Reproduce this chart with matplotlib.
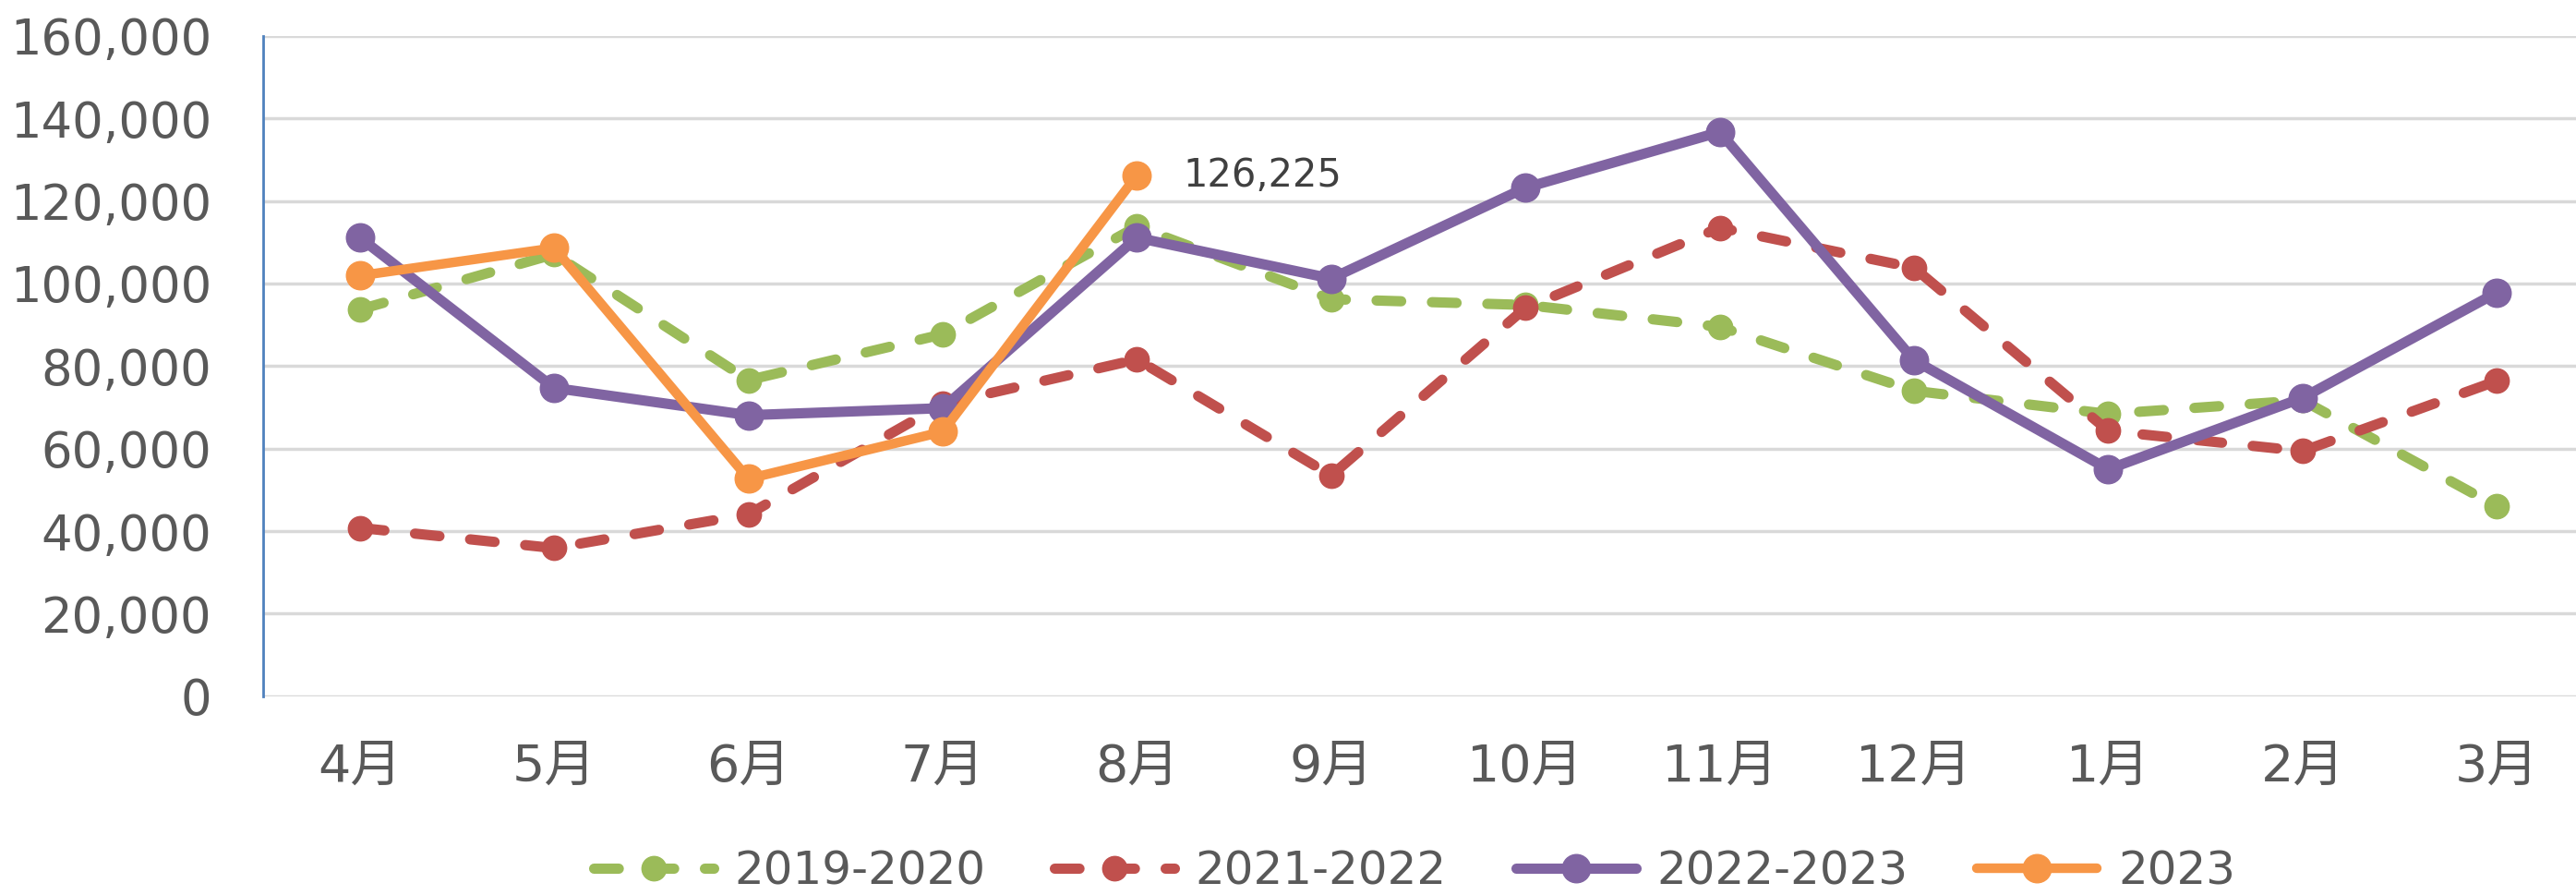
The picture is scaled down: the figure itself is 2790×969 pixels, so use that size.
import numpy as np
import matplotlib.pyplot as plt

plt.rcParams['font.family'] = ['DejaVu Sans', 'Noto Sans CJK JP']

months = ["4月", "5月", "6月", "7月", "8月", "9月", "10月", "11月", "12月", "1月", "2月", "3月"]

s2019 = [93700, 107100, 76600, 87700, 113800, 96200, 94800, 89500, 74000, 68400, 71700, 46000]
s2021 = [40800, 35900, 44100, 70800, 81600, 53500, 94100, 113500, 103800, 64300, 59400, 76400]
s2022 = [111100, 74700, 68100, 69800, 111100, 101200, 123200, 136700, 81400, 55000, 72300, 97800]
s2023 = [101900, 108600, 52700, 64100, 126225]

labels = ["2019-2020", "2021-2022", "2022-2023", "2023"]
colors = ["#9BBB59", "#C0504D", "#8064A2", "#F79646"]

fig = plt.figure(figsize=(27.9, 9.69), dpi=100)
ax = fig.add_axes([0.102, 0.222, 0.905, 0.738])

x = np.arange(len(months))
dash = (0, (2.4, 3.0))
ax.plot(x, s2019, color=colors[0], lw=8, linestyle=dash, dash_capstyle='round',
        marker='o', markersize=19, label=labels[0], zorder=3)
ax.plot(x, s2021, color=colors[1], lw=8, linestyle=dash, dash_capstyle='round',
        marker='o', markersize=19, label=labels[1], zorder=3)
ax.plot(x, s2022, color=colors[2], lw=8, solid_capstyle='round',
        marker='o', markersize=22, label=labels[2], zorder=4)
ax.plot(x[:len(s2023)], s2023, color=colors[3], lw=7.5, solid_capstyle='round',
        marker='o', markersize=22, label=labels[3], zorder=5)

ax.annotate(f"{s2023[-1]:,}", xy=(x[len(s2023) - 1], s2023[-1]), xytext=(36, 0),
            textcoords='offset points', va='center', ha='left', fontsize=30, color='#404040')

ax.set_xlim(-0.5, 11.5)
ax.set_ylim(0, 160000)
ax.set_yticks(np.arange(0, 160001, 20000))
ax.yaxis.set_major_formatter(plt.FuncFormatter(lambda v, p: f"{int(v):,}"))
ax.set_xticks(x)
ax.set_xticklabels(months)
ax.tick_params(axis='both', length=0, labelsize=40, colors='#595959')
ax.tick_params(axis='y', pad=40, labelsize=38)
ax.tick_params(axis='x', pad=36)

ax.grid(axis='y', color='#D9D9D9', lw=2.5)
ax.set_axisbelow(True)
for side in ['top', 'right', 'bottom']:
    ax.spines[side].set_visible(False)
ax.spines['left'].set_color('#4F81BD')
ax.spines['left'].set_linewidth(2)

leg = fig.legend(loc='center', bbox_to_anchor=(0.549, 0.026), ncol=4, frameon=False,
                 fontsize=36, handlelength=2.6, columnspacing=1.5, handletextpad=0.45)
for t in leg.get_texts():
    t.set_color('#595959')

fig.savefig("out.png", dpi=100)
